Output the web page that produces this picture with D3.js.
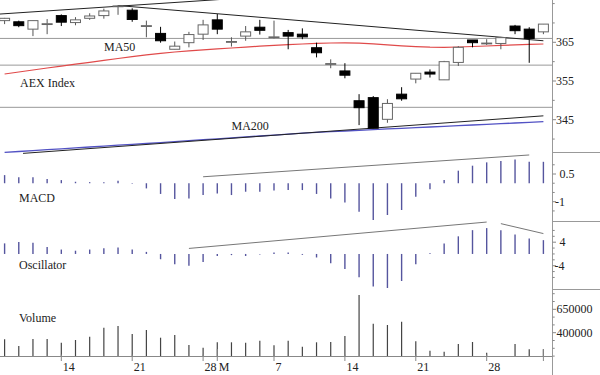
<!DOCTYPE html>
<html><head><meta charset="utf-8">
<script src="https://cdn.jsdelivr.net/npm/d3@7"></script>
<style>
body{margin:0;background:#fff}
svg text{font-family:"Liberation Serif","Times New Roman",serif;font-size:12px;fill:#222}
</style>
</head><body>
<svg id="c" width="600" height="375"></svg>
<script>
// ---------- data ----------
const dates = ["2011-02-08","2011-02-09","2011-02-10","2011-02-11","2011-02-14","2011-02-15","2011-02-16","2011-02-17","2011-02-18",
"2011-02-21","2011-02-22","2011-02-23","2011-02-24","2011-02-25","2011-02-28","2011-03-01","2011-03-02","2011-03-03","2011-03-04",
"2011-03-07","2011-03-08","2011-03-09","2011-03-10","2011-03-11","2011-03-14","2011-03-15","2011-03-16","2011-03-17","2011-03-18",
"2011-03-21","2011-03-22","2011-03-23","2011-03-24","2011-03-25","2011-03-28","2011-03-29","2011-03-30","2011-03-31","2011-04-01"];
const openP  = [370.6,370.3,368.4,369.6,371.9,370.1,371.2,371.9,374.3,373.3,369.2,367.3,363.2,364.9,367.1,370.8,365.0,366.6,368.9,366.3,367.5,367.1,363.6,359.4,357.6,349.9,350.7,345.1,351.6,355.5,357.3,355.3,359.8,365.6,364.7,364.7,369.2,368.4,367.7];
const highP  = [371.3,370.6,370.6,371.0,372.2,371.5,372.5,373.7,374.6,373.8,370.6,369.0,365.2,367.7,370.8,372.3,366.3,369.2,370.8,370.6,368.2,368.6,364.9,360.6,359.6,351.6,351.1,350.3,353.4,357.0,358.0,360.2,364.0,365.6,365.8,366.4,369.5,368.9,369.7];
const lowP   = [369.7,368.9,366.6,367.1,369.2,369.4,370.8,371.1,372.1,370.3,366.3,364.9,363.2,363.7,365.6,367.1,363.9,365.4,367.0,366.0,363.2,365.8,361.1,358.3,355.7,343.6,342.8,344.2,349.9,354.4,355.9,355.3,358.9,363.7,364.3,363.2,367.1,359.7,367.1];
const closeP = [371.2,369.3,370.6,369.8,370.2,370.8,371.8,373.1,374.4,370.9,369.3,365.4,364.0,367.0,369.5,368.4,365.2,367.7,368.1,366.4,366.6,366.4,362.3,359.5,356.5,348.1,342.8,349.2,350.4,357.0,356.8,360.0,363.7,364.9,364.8,366.2,368.0,366.0,369.7];
const ma50 = [356.81,357.33,357.84,358.36,358.85,359.34,359.83,360.32,360.81,361.30,361.77,362.16,362.49,362.78,363.04,363.29,363.53,363.76,363.99,364.20,
364.38,364.56,364.72,364.82,364.84,364.77,364.59,364.35,364.10,363.89,363.73,363.71,363.79,363.91,364.04,364.20,364.33,364.46,364.56];
const ma200 = [336.58,336.78,337.02,337.25,337.48,337.71,337.95,338.18,338.41,338.64,338.85,339.08,339.32,339.57,339.83,340.06,340.30,340.56,340.79,341.02,
341.28,341.51,341.72,341.90,342.08,342.26,342.44,342.62,342.78,342.96,343.11,343.29,343.45,343.63,343.79,343.97,344.15,344.30,344.48];
const macd = [0.44,0.32,0.32,0.23,0.17,0.08,0.06,0.05,0.14,-0.03,-0.28,-0.58,-0.86,-0.82,-0.64,-0.55,-0.64,-0.46,-0.46,-0.40,
-0.37,-0.37,-0.58,-0.82,-1.05,-1.54,-1.99,-1.72,-1.45,-0.73,-0.33,0.17,0.68,0.95,1.13,1.20,1.29,1.16,1.16];
const osc = [3.6,4.1,3.8,2.4,1.5,1.1,1.5,1.9,2.2,1.5,0.7,-1.8,-3.5,-4.0,-2.7,-0.7,-0.4,-0.7,-0.2,0.5,
0.5,-0.3,-1.2,-3.2,-5.1,-7.9,-11.1,-11.6,-9.2,-3.5,0.2,3.6,6.0,8.1,8.8,8.1,6.6,5.3,4.7];
const volume = [329500,258000,332700,332700,293000,322000,357000,453000,472000,386000,429000,346600,375000,268600,239700,297400,297400,293000,314500,265400,
314500,250400,297400,300600,364700,802800,496200,482300,517500,308100,207700,197000,279300,300600,186300,148000,279300,222600,222600];

// horizontal price levels and trend lines ([index, value] pairs)
const priceLevels = [366.0, 359.1, 348.2];
const priceTrends = [[[-0.5,372.26],[16,376.26]], [[8.0,374.5],[38,365.4]], [[1.3,336.3],[38,346.0]]];
const macdTrends = [[[14,0.35],[37,1.53]]];
const oscTrends = [[[13,1.88],[34,10.86]], [[35,10.32],[38,6.94]]];

// ticks
const tickDates  = ["2011-02-14","2011-02-21","2011-02-28","2011-03-01","2011-03-07","2011-03-14","2011-03-21","2011-03-28","2011-04-01"];
const tickLabels = ["14","21","28","M","7","14","21","28",""];
const tickMonth  = [false,false,false,true,false,false,false,false,true];
const priceTicks = [340,345,350,355,360,365,370,375], priceLabels = [345,355,365];
const macdTicks = [-1.5,-1,-0.5,0,0.5,1], macdLabels = [-1,0.5];
const oscTicks = [-8,-6,-4,-2,0,2,4,6,8], oscLabels = [-4,4];
const volTicks = [-3,-2,-1,0,1,2,3,4,5].map(k => 400000 + k*250000/3), volLabels = [400000,650000];
const panelLabels = [["MA50",104,50.7],["AEX Index",20,87.3],["MA200",231.5,130],["MACD",19,201.7],["Oscillator",19,269.3],["Volume",19,321.7]];

// ---------- scales ----------
const svg = d3.select("#c");
const AX = 552.5, XB = 356.5;
const x = d3.scaleLinear().domain([0, dates.length-1]).range([4.6, 543.4]);
const yP = d3.scaleLinear().domain([345,365]).range([119.7,42.3]);
const yM = d3.scaleLinear().domain([-1,0.5]).range([201.7,174]);
const yO = d3.scaleLinear().domain([-4,4]).range([265.7,242.2]);
const yV = d3.scaleLinear().domain([400000,650000]).range([332.7,309.3]);
const idx = d3.range(dates.length);

// gridlines
svg.append("g").selectAll("line").data(priceLevels).join("line")
  .attr("x1",0).attr("x2",AX).attr("y1",d=>yP(d)).attr("y2",d=>yP(d))
  .attr("stroke","#999").attr("stroke-width",1);

// moving averages
const lineGen = ys => d3.line().x((d,i)=>x(i)).y(d=>ys(d));
svg.append("path").attr("d",lineGen(yP)(ma50)).attr("fill","none").attr("stroke","#e04a4a").attr("stroke-width",1.2);
svg.append("path").attr("d",lineGen(yP)(ma200)).attr("fill","none").attr("stroke","#5252c4").attr("stroke-width",1.3);

// trend lines
const trendG = svg.append("g");
function trends(arr, ys, col){
  trendG.append("g").selectAll("line").data(arr).join("line")
    .attr("x1",d=>x(d[0][0])).attr("y1",d=>ys(d[0][1]))
    .attr("x2",d=>x(d[1][0])).attr("y2",d=>ys(d[1][1]))
    .attr("stroke",col).attr("stroke-width",1);
}
trends(priceTrends, yP, "#222");
trends(macdTrends, yM, "#777");
trends(oscTrends, yO, "#777");

// candles
const cg = svg.append("g");
cg.selectAll("line").data(idx).join("line")
  .attr("x1",i=>x(i)).attr("x2",i=>x(i))
  .attr("y1",i=>yP(highP[i])).attr("y2",i=>yP(lowP[i]))
  .attr("stroke",i=>closeP[i]>=openP[i]?"#555":"#000").attr("stroke-width",1);
cg.selectAll("rect").data(idx).join("rect")
  .attr("x",i=>x(i)-5).attr("width",10)
  .attr("y",i=>yP(Math.max(openP[i],closeP[i])))
  .attr("height",i=>Math.max(0.8, Math.abs(yP(openP[i])-yP(closeP[i]))))
  .attr("fill",i=>closeP[i]>=openP[i]?"#fff":"#000")
  .attr("stroke",i=>closeP[i]>=openP[i]?"#666":"#000").attr("stroke-width",1);

// MACD & oscillator bars
svg.append("g").selectAll("line").data(idx).join("line")
  .attr("x1",i=>x(i)).attr("x2",i=>x(i)).attr("y1",yM(0)).attr("y2",i=>yM(macd[i]))
  .attr("stroke","#55559e").attr("stroke-width",1.4);
svg.append("g").selectAll("line").data(idx).join("line")
  .attr("x1",i=>x(i)).attr("x2",i=>x(i)).attr("y1",yO(0)).attr("y2",i=>yO(osc[i]))
  .attr("stroke","#55559e").attr("stroke-width",1.4);

// volume bars
svg.append("g").selectAll("line").data(idx).join("line")
  .attr("x1",i=>x(i)).attr("x2",i=>x(i)).attr("y1",XB).attr("y2",i=>Math.min(XB,yV(volume[i])))
  .attr("stroke","#444").attr("stroke-width",1.2);

// x axis
svg.append("line").attr("x1",0).attr("x2",AX).attr("y1",XB).attr("y2",XB).attr("stroke","#888");
const parse = d3.utcParse("%Y-%m-%d");
const dIndex = s => dates.indexOf(s);
const tg = svg.append("g");
tg.selectAll("line").data(tickDates).join("line")
  .attr("x1",d=>x(dIndex(d))).attr("x2",d=>x(dIndex(d)))
  .attr("y1",(d,i)=>tickMonth[i]?349:354.5).attr("y2",361)
  .attr("stroke","#888");
tg.selectAll("text").data(tickDates).join("text")
  .attr("x",d=>x(dIndex(d))+1.5).attr("y",371)
  .text((d,i)=>tickLabels[i]);

// right axis
svg.append("line").attr("x1",AX).attr("x2",AX).attr("y1",0).attr("y2",375).attr("stroke","#999");
[152.5,221.5,289.5].forEach(yy=>svg.append("line").attr("x1",AX).attr("x2",600).attr("y1",yy).attr("y2",yy).attr("stroke","#999"));
function rAxis(scale, ticks, labels, fmt, posX, negX){
  const g = svg.append("g");
  g.selectAll("line").data(ticks).join("line")
    .attr("x1",AX).attr("x2",d=>AX+(labels.includes(d)?3.5:2.2))
    .attr("y1",d=>scale(d)).attr("y2",d=>scale(d)).attr("stroke","#888");
  g.selectAll("text").data(labels).join("text")
    .attr("x",d=>d<0?negX:posX).attr("y",d=>scale(d)).attr("dy","0.34em")
    .text(fmt);
}
rAxis(yP, priceTicks, priceLabels, d=>d, 556, 556);
rAxis(yM, macdTicks, macdLabels, d=>d<0?"-"+Math.abs(d):String(d), 559.5, 555);
rAxis(yO, oscTicks, oscLabels, d=>d<0?"-"+Math.abs(d):String(d), 559.5, 554.5);
rAxis(yV, volTicks, volLabels, d=>d, 556.5, 556.5);

// panel labels
svg.append("g").selectAll("text").data(panelLabels).join("text")
  .attr("x",d=>d[1]).attr("y",d=>d[2]).text(d=>d[0]);
</script>
</body></html>
